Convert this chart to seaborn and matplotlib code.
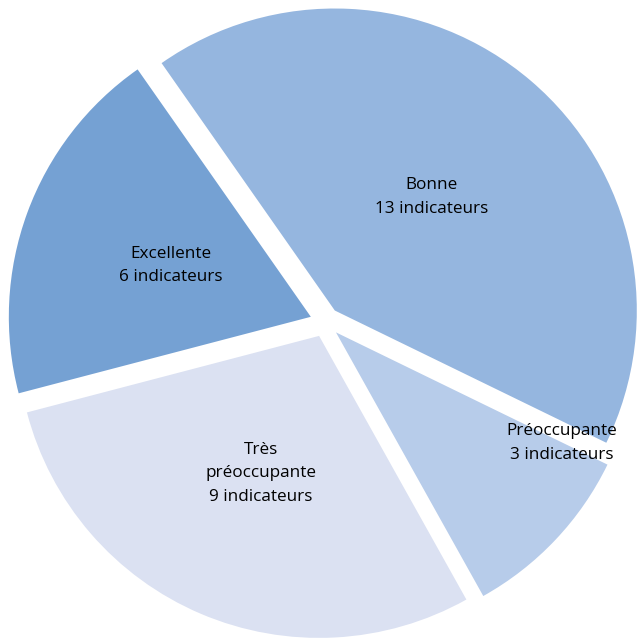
import matplotlib
matplotlib.use("Agg")
import matplotlib.pyplot as plt
import seaborn as sns

sns.set_theme(style="white")
plt.rcParams['font.family'] = ['Open Sans', 'DejaVu Sans']

categories = ["Bonne", "Préoccupante", "Très\npréoccupante", "Excellente"]
values = [13, 3, 9, 6]
unit = "indicateurs"
colors = ["#95B6DF", "#B7CCEA", "#DBE1F2", "#75A1D3"]

labels = [f"{c}\n{v} {unit}" for c, v in zip(categories, values)]

fig = plt.figure(figsize=(6.41, 6.38), dpi=100)
ax = fig.add_axes([0, 0, 1, 1])
wedges, texts = ax.pie(values, labels=labels, colors=colors, startangle=125,
                       counterclock=False, explode=[0.05] * len(values),
                       labeldistance=0.495, radius=1.0,
                       wedgeprops=dict(linewidth=0),
                       textprops=dict(fontsize=12.3, color="black", ha="center",
                                      va="center", linespacing=1.62))
# Préoccupante label sits towards the outer edge (best-fit placement)
texts[1].set_position((0.785, -0.40))

scale = 302.0
cx, cy = 325, 322
ax.set_xlim(-cx / scale, (641 - cx) / scale)
ax.set_ylim(-(638 - cy) / scale, cy / scale)
ax.set_aspect("equal")
ax.axis("off")
fig.savefig("out.png", dpi=100)
